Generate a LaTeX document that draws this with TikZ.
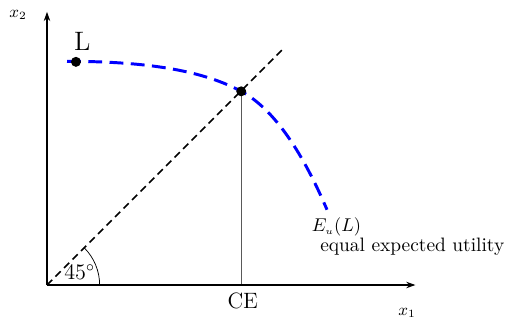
\documentclass[tikz,border=0pt]{standalone}
\usepackage{amssymb}
\usepackage{tikz}
\usetikzlibrary{positioning, calc, arrows.meta}

\begin{document}
\begin{tikzpicture}[scale=1]
        \useasboundingbox (-0.893,-0.798) rectangle (8.74,5.415);
        \coordinate (O) at (0,0);
        \coordinate (xend) at (7.0,0);
        \coordinate (yend) at (0,5.19);
        \coordinate (diag) at (4.52,4.52);
        \coordinate (L) at (0.55,4.24);
        \coordinate (start) at (0.38,4.25);
        \coordinate (CE) at (3.69,3.68);
        \coordinate (CEx) at (3.69,0);
        \coordinate (Lend) at (5.32,1.43);
        \draw[gray!70!black, thin] (CE) -- (CEx);
        \draw[thick, dash pattern=on 4pt off 2.5pt] (O) -- (diag);
        \draw[blue, line width=1.6pt, dash pattern=on 7.5pt off 4pt]
          (start) .. controls (2.0,4.25) and (3.0,4.05) .. (CE)
                  .. controls (4.4,3.3) and (4.95,2.3) .. (Lend);
        \draw[thin] (1.0,0) arc (0:45:1.0);
        \draw[semithick, -{Stealth[length=5pt,width=3.5pt]}] (O) -- (xend);
        \draw[semithick, -{Stealth[length=5pt,width=3.5pt]}] (O) -- (yend);
        \fill (L) circle (2.7pt);
        \fill (CE) circle (2.7pt);
        \node[font=\Large] (Llab) at (0.67,4.62) {L};
        \node[font=\large] (CElab) at (3.72,-0.30) {CE};
        \node[font=\small] (x1lab) at (6.84,-0.53) {$x_1$};
        \node[font=\small] (x2lab) at (-0.55,5.13) {$x_2$};
        \node[font=\large] (anglab) at (0.62,0.24) {$45^\circ$};
        \node (Eulab) at (5.5,1.10) {$E_{\scriptscriptstyle u}(L)$};
        \node[font=\fontsize{10.5}{12}\selectfont] (eqlab) at (6.94,0.72) {equal expected utility};
      \end{tikzpicture}
\end{document}
